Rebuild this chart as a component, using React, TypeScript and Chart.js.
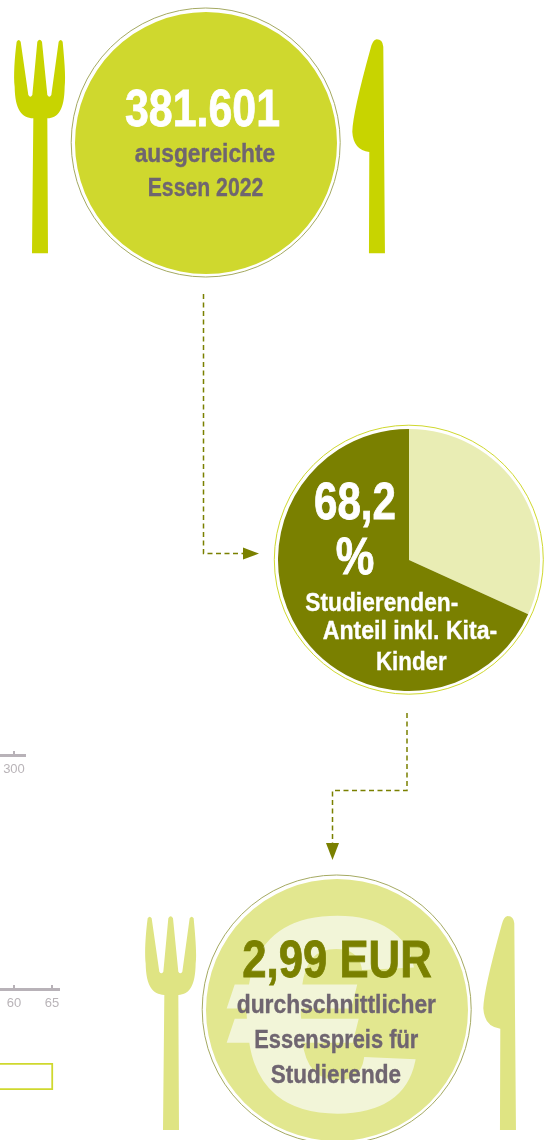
import React, { useEffect, useRef } from "react";
import { Chart, registerables } from "chart.js";

Chart.register(...registerables);

// ---- data ----
const mealsIssued = [381601];
const studentShare = [31.8, 68.2]; // other guests, students
const averagePrice = [2.99];
const fragmentTicksTop = [300];
const fragmentTicksBottom = [60, 65];
const fragmentBar = [65.13];
const fragmentBarLabels = ["Wert"];

const FONT = "'Liberation Sans', sans-serif";
const FORK =
  "M50,65 Q56,55 62,65 L85,225 Q91,235 97,225 L112,65 Q119,53 126,65 L142,225 Q148,235 154,225 L176,65 Q182,55 188,65 C192,110 198,170 194,200 C193,270 175,293 142,295 L144,700 L96,700 L100,295 C65,293 45,270 44,200 C40,170 44,110 50,65 Z";
const KNIFE =
  "M1150,80 Q1148,58 1130,58 Q1118,60 1112,85 Q1058,280 1057,335 Q1060,390 1108,396 L1107,700 L1155,700 Z";

type Txt = { t: string; x1: number; x2: number; y: number; s: number; c: string };
const TEXTS: Txt[] = [
  { t: "381.601", x1: 125, x2: 280, y: 125.5, s: 51, c: "#ffffff" },
  { t: "ausgereichte", x1: 134.7, x2: 275.3, y: 161.5, s: 25, c: "#6f6570" },
  { t: "Essen 2022", x1: 147.7, x2: 263.3, y: 195.5, s: 25, c: "#6f6570" },
  { t: "68,2", x1: 314, x2: 396, y: 518.5, s: 51, c: "#ffffff" },
  { t: "%", x1: 335.7, x2: 374.3, y: 573.5, s: 51, c: "#ffffff" },
  { t: "Studierenden-", x1: 305.3, x2: 458.3, y: 610.5, s: 26.5, c: "#ffffff" },
  { t: "Anteil inkl. Kita-", x1: 322.7, x2: 497.3, y: 639, s: 26.5, c: "#ffffff" },
  { t: "Kinder", x1: 376, x2: 446.7, y: 669.5, s: 26.5, c: "#ffffff" },
  { t: "2,99 EUR", x1: 242.3, x2: 431.7, y: 977.2, s: 51, c: "#7a8000" },
  { t: "durchschnittlicher", x1: 236.7, x2: 436, y: 1013, s: 25, c: "#6f6570" },
  { t: "Essenspreis für", x1: 254.3, x2: 418.3, y: 1047.5, s: 25, c: "#6f6570" },
  { t: "Studierende", x1: 270.7, x2: 401, y: 1082.5, s: 25, c: "#6f6570" },
];

function usePie(data: number[], colors: string[]) {
  const ref = useRef<HTMLCanvasElement>(null);
  useEffect(() => {
    const chart = new Chart(ref.current!, {
      type: "pie",
      data: { labels: data.map(String), datasets: [{ data, backgroundColor: colors, borderWidth: 0 }] },
      options: {
        animation: false,
        responsive: false,
        layout: { padding: 0 },
        plugins: { legend: { display: false }, tooltip: { enabled: false } },
      },
    });
    return () => chart.destroy();
  }, []);
  return ref;
}

function useAxis(ticks: number[], min: number, max: number) {
  const ref = useRef<HTMLCanvasElement>(null);
  useEffect(() => {
    const chart = new Chart(ref.current!, {
      type: "scatter",
      data: { datasets: [{ data: [], showLine: false }] },
      options: {
        animation: false,
        responsive: false,
        layout: { padding: { top: 0, left: 0, bottom: 0, right: 1 } },
        plugins: { legend: { display: false }, tooltip: { enabled: false } },
        scales: {
          y: { display: false },
          x: {
            type: "linear",
            min,
            max,
            afterBuildTicks: (s: any) => {
              s.ticks = ticks.map((value) => ({ value }));
            },
            afterFit: (s: any) => {
              s.height = 22;
              s.paddingLeft = 0;
              s.paddingRight = 0;
            },
            grid: { color: "#b8b2b8", lineWidth: 2, drawTicks: false, drawOnChartArea: true },
            border: { color: "#b8b2b8", width: 3, display: true },
            ticks: {
              color: "#b9b4b8",
              padding: 7,
              maxRotation: 0,
              autoSkip: false,
              font: { family: FONT, size: 13 },
            },
          },
        },
      },
    });
    return () => chart.destroy();
  }, []);
  return ref;
}

function useBar() {
  const ref = useRef<HTMLCanvasElement>(null);
  useEffect(() => {
    const chart = new Chart(ref.current!, {
      type: "bar",
      data: {
        labels: fragmentBarLabels,
        datasets: [
          {
            data: fragmentBar,
            backgroundColor: "#ffffff",
            borderColor: "#cfd82e",
            borderWidth: 2,
            categoryPercentage: 1,
            barPercentage: 1,
          },
        ],
      },
      options: {
        indexAxis: "y",
        animation: false,
        responsive: false,
        layout: { padding: { top: 1, bottom: 1, right: 0, left: 0 } },
        plugins: { legend: { display: false }, tooltip: { enabled: false } },
        scales: {
          x: { display: false, min: 58.16, max: 65.92 },
          y: { display: false },
        },
      },
    });
    return () => chart.destroy();
  }, []);
  return ref;
}

const abs = (l: number, t: number): React.CSSProperties => ({ position: "absolute", left: l, top: t, display: "block" });

export default function App() {
  const p1 = usePie(mealsIssued, ["#cfd82e"]);
  const p2 = usePie(studentShare, ["#e9edb4", "#7a8000"]);
  const p3 = usePie(averagePrice, ["#e2e78f"]);
  const a1 = useAxis(fragmentTicksTop, 298.16, 301.45);
  const a2 = useAxis(fragmentTicksBottom, 58.16, 65.92);
  const b1 = useBar();

  return (
    <div style={{ position: "absolute", left: 0, top: 0, width: 545, height: 1140, overflow: "hidden", background: "#fff" }}>
      <svg width={545} height={1140} style={abs(0, 0)}>
        <circle cx={205.7} cy={142.5} r={134.5} fill="none" stroke="#a5aa62" strokeWidth={1} />
        <circle cx={408.8} cy={559.7} r={134.5} fill="none" stroke="#cfd82e" strokeWidth={1} />
        <circle cx={336.7} cy={1009.5} r={134.5} fill="none" stroke="#a5aa62" strokeWidth={1} />
        <g transform="translate(0,20) scale(0.3333)" fill="#c8d400">
          <path d={FORK} />
          <path d={KNIFE} />
        </g>
        <g transform="translate(131,896.7) scale(0.3333)" fill="#dfe483">
          <path d={FORK} />
          <path d={KNIFE} />
        </g>
        <g fill="none" stroke="#7a8000" strokeWidth={1.5} strokeDasharray="5 3.5">
          <polyline points="203.5,294 203.5,553.5 243,553.5" />
          <polyline points="407,713 407,790.5 332.5,790.5 332.5,843" />
        </g>
        <polygon points="243,547.5 259,553.5 243,559.5" fill="#7a8000" />
        <polygon points="326,843 339,843 332.5,860" fill="#7a8000" />
      </svg>

      <canvas ref={p1} width={262} height={262} style={abs(74.7, 11.5)} />
      <canvas ref={p2} width={262} height={262} style={abs(277.8, 428.7)} />
      <canvas ref={p3} width={262} height={262} style={abs(205.7, 878.5)} />
      <canvas ref={a1} width={26} height={26} style={abs(0, 751)} />
      <canvas ref={a2} width={60} height={26} style={abs(0, 985)} />
      <canvas ref={b1} width={59} height={29} style={abs(0, 1062)} />

      <svg width={545} height={1140} style={abs(0, 0)}>
        <g transform="translate(323.5,0) scale(1.25,1)">
          <text
            x={0}
            y={1109}
            textAnchor="middle"
            fontFamily={FONT}
            fontWeight={700}
            fontSize={274}
            fill="#f2f5d8"
            stroke="#f2f5d8"
            strokeWidth={4}
          >
            €
          </text>
        </g>
        {TEXTS.map((d) => (
          <text
            key={d.t}
            x={d.x1}
            y={d.y}
            textLength={d.x2 - d.x1}
            lengthAdjust="spacingAndGlyphs"
            fontFamily={FONT}
            fontWeight={700}
            fontSize={d.s}
            fill={d.c}
            stroke={d.c}
            strokeWidth={d.s > 40 ? 0.8 : 0.35}
          >
            {d.t}
          </text>
        ))}
      </svg>
    </div>
  );
}
